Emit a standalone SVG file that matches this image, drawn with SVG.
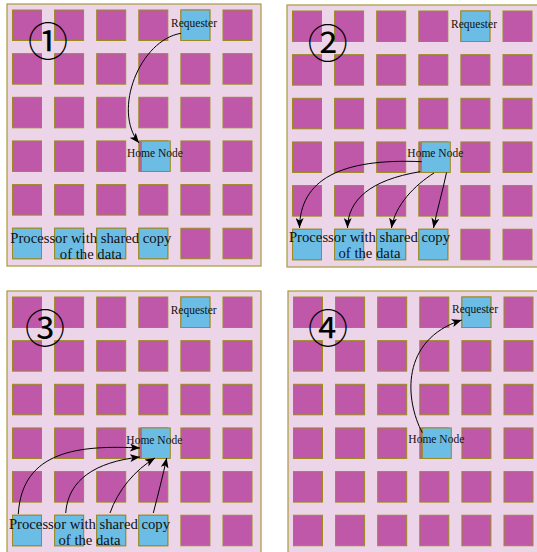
<svg xmlns="http://www.w3.org/2000/svg" xmlns:xlink="http://www.w3.org/1999/xlink" width="537" height="552" viewBox="0 0 537 552">
<style>
.panel{fill:#ecd5e9;stroke:#a89a38;stroke-width:1.2}
.cell{fill:#c058a9;stroke:#9c8a1e;stroke-width:1}
.node{fill:#6bbde6;stroke:#9c8a1e;stroke-width:1}
.lbl{font-family:"Liberation Serif","Times New Roman",serif;font-size:11.5px;fill:#111;text-anchor:middle}
.plbl{font-family:"Liberation Serif","Times New Roman",serif;font-size:14.7px;fill:#111;text-anchor:middle}
.num{font-family:"Noto Sans CJK JP","DejaVu Sans",sans-serif;font-size:40px;fill:#000;text-anchor:middle}
.conn{fill:none;stroke:#000;stroke-width:1;marker-end:url(#arr)}
</style>
<defs>
<marker id="arr" markerUnits="userSpaceOnUse" markerWidth="10" markerHeight="8" viewBox="0 0 10 8" refX="10" refY="4" orient="auto">
<path d="M0,0 L10,4 L0,8 L2.5,4 z" fill="#000"/>
</marker>
<g id="grid">
<rect class="panel" x="0" y="0" width="254" height="262"/>
<g id="row">
<rect class="cell" x="5.5" y="6" width="29" height="30.5"/>
<rect class="cell" x="47.6" y="6" width="29" height="30.5"/>
<rect class="cell" x="89.7" y="6" width="29" height="30.5"/>
<rect class="cell" x="131.8" y="6" width="29" height="30.5"/>
<rect class="cell" x="173.9" y="6" width="29" height="30.5"/>
<rect class="cell" x="216" y="6" width="29" height="30.5"/>
</g>
<use xlink:href="#row" y="43.65"/>
<use xlink:href="#row" y="87.3"/>
<use xlink:href="#row" y="130.95"/>
<use xlink:href="#row" y="174.6"/>
<use xlink:href="#row" y="218.25"/>
</g>
</defs>

<g id="panel1" transform="translate(7,4)">
<use xlink:href="#grid"/>
<g id="p1-requester"><rect class="node" x="173.9" y="6" width="29" height="30.5"/><text class="lbl" x="187" y="23">Requester</text></g>
<g id="p1-home"><rect class="node" x="134.3" y="136.95" width="29" height="30.5"/><text class="lbl" x="148" y="152.7">Home Node</text></g>
<g id="p1-proc1"><rect class="node" x="5.5" y="224.25" width="29" height="30.5"/></g>
<g id="p1-proc2"><rect class="node" x="47.6" y="224.25" width="29" height="30.5"/></g>
<g id="p1-proc3"><rect class="node" x="89.7" y="224.25" width="29" height="30.5"/></g>
<g id="p1-proc4"><rect class="node" x="131.8" y="224.25" width="29" height="30.5"/></g>
<g id="p1-proclabel"><text class="plbl" x="83.8" y="238.5">Processor with shared copy</text><text class="plbl" x="83.8" y="254.8">of the data</text></g>
<text class="num" x="41" y="52">①</text>
</g>

<g id="panel2" transform="translate(287,5)">
<use xlink:href="#grid"/>
<g id="p2-requester"><rect class="node" x="173.9" y="6" width="29" height="30.5"/><text class="lbl" x="187" y="23.3">Requester</text></g>
<g id="p2-home"><rect class="node" x="134.3" y="136.95" width="29" height="30.5"/><text class="lbl" x="148.3" y="152.3">Home Node</text></g>
<g id="p2-proc1"><rect class="node" x="5.5" y="224.25" width="29" height="30.5"/></g>
<g id="p2-proc2"><rect class="node" x="47.6" y="224.25" width="29" height="30.5"/></g>
<g id="p2-proc3"><rect class="node" x="89.7" y="224.25" width="29" height="30.5"/></g>
<g id="p2-proc4"><rect class="node" x="131.8" y="224.25" width="29" height="30.5"/></g>
<g id="p2-proclabel"><text class="plbl" x="82.5" y="237">Processor with shared copy</text><text class="plbl" x="82.5" y="253.3">of the data</text></g>
<text class="num" x="40.7" y="53">②</text>
</g>

<g id="panel3" transform="translate(7,291)">
<use xlink:href="#grid"/>
<g id="p3-requester"><rect class="node" x="173.9" y="6" width="29" height="30.5"/><text class="lbl" x="186.7" y="23.3">Requester</text></g>
<g id="p3-home"><rect class="node" x="134.3" y="136.95" width="29" height="30.5"/><text class="lbl" x="147.3" y="153.3">Home Node</text></g>
<g id="p3-proc1"><rect class="node" x="5.5" y="224.25" width="29" height="30.5"/></g>
<g id="p3-proc2"><rect class="node" x="47.6" y="224.25" width="29" height="30.5"/></g>
<g id="p3-proc3"><rect class="node" x="89.7" y="224.25" width="29" height="30.5"/></g>
<g id="p3-proc4"><rect class="node" x="131.8" y="224.25" width="29" height="30.5"/></g>
<g id="p3-proclabel"><text class="plbl" x="82.5" y="237.5">Processor with shared copy</text><text class="plbl" x="82.5" y="253.8">of the data</text></g>
<text class="num" x="38" y="52">③</text>
</g>

<g id="panel4" transform="translate(288,291)">
<use xlink:href="#grid"/>
<g id="p4-requester"><rect class="node" x="173.9" y="6" width="29" height="30.5"/><text class="lbl" x="187" y="22.3">Requester</text></g>
<g id="p4-home"><rect class="node" x="134.3" y="136.95" width="29" height="30.5"/><text class="lbl" x="148.3" y="152.3">Home Node</text></g>
<text class="num" x="40" y="52">④</text>
</g>

<g id="connectors">
<path class="conn" d="M181,33.3 C140,40 112,110 139,143"/>
<path class="conn" d="M421.7,161.7 C340,158 300,180 299.5,228"/>
<path class="conn" d="M420,171.7 C370,180 348,200 347.5,228"/>
<path class="conn" d="M434,173 C415,185 395,205 391.5,228"/>
<path class="conn" d="M446.5,172.5 C443,190 437,210 433.5,228"/>
<path class="conn" d="M18.3,514 C22,450 80,445 140,448"/>
<path class="conn" d="M65.7,513 C68,480 95,462 140,457"/>
<path class="conn" d="M110,513 C118,490 135,470 155,458"/>
<path class="conn" d="M153.3,513 C158,495 163,475 166.7,458"/>
<path class="conn" d="M422.3,432.7 C405,400 400,340 461.7,320"/>
</g>
</svg>
